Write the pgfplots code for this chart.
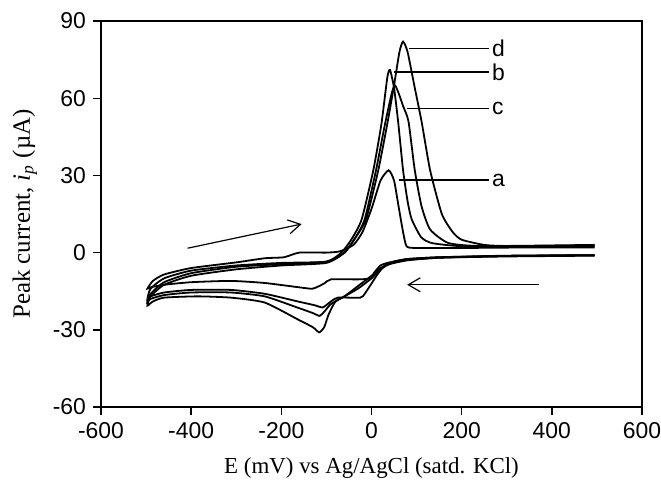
\documentclass[border=0pt]{standalone}
\usepackage{fontspec}
\setmainfont{Liberation Serif}
\setsansfont{Liberation Sans}
\usepackage{pgfplots}
\pgfplotsset{compat=1.18}
\usetikzlibrary{arrows.meta}

\begin{document}
\begin{tikzpicture}
\begin{axis}[
    scale only axis,
    width=270.5bp, height=193bp,
    xmin=-600, xmax=600, ymin=-60, ymax=90,
    xtick={-600,-400,...,600},
    ytick={-60,-30,...,90},
    xtick pos=bottom, ytick pos=left,
    tick align=outside,
    major tick length=4bp,
    axis line style={line width=0.8pt},
    tick style={line width=0.7pt, black},
    tick label style={font=\sffamily\fontsize{11.5}{13}\selectfont},
    /pgf/number format/assume math mode=true,
    xlabel={E (mV) vs Ag/AgCl (satd. KCl)},
    ylabel={Peak current, \textit{i}\textsubscript{\textit{p}} (µA)},
    xlabel style={font=\fontsize{11.5}{13}\selectfont, yshift=-3bp},
    ylabel style={font=\fontsize{12.5}{14}\selectfont, yshift=1bp},
    cycle list={{black, solid, mark=none}},
    cv/.style={black, mark=none, line width=0.9pt, smooth, tension=0.35},
    clip=false,
]
% curve a (return sweep, then forward sweep)
\addplot[cv] coordinates {
(495,-1) (300,-1.3) (150,-2) (80,-2.8) (40,-3.8) (20,-5) (5,-8) (0,-10) (-30,-10.4) (-90,-10.4) (-105,-12) (-130,-14) (-160,-13.5) (-237,-11.8) (-312,-11) (-400,-11.5) (-460,-12.5) (-490,-13.5) (-497,-14)
(-485,-11) (-460,-8.5) (-400,-6) (-300,-3.8) (-237,-2.2) (-194,-1.8) (-160,0) (-100,0) (-70,0.5) (-40,3) (-20,8) (0,17) (20,28) (38,32) (50,28) (60,18) (70,8) (78,2.4) (100,1.8) (200,1.8) (350,2) (495,2)
};
% curve b
\addplot[cv] coordinates {
(495,-1.2) (300,-1.5) (150,-2) (80,-3) (40,-4.5) (20,-6.5) (0,-10) (-30,-14) (-60,-17) (-90,-20) (-105,-23) (-115,-24.6) (-130,-23.5) (-170,-21) (-237,-17) (-312,-15.5) (-400,-15.5) (-460,-16.5) (-490,-18) (-497,-19)
(-490,-16) (-460,-11.5) (-400,-8) (-300,-5.5) (-200,-4.5) (-100,-3.5) (-67,0) (-45,5) (-22,12.8) (4,32) (22,50) (35,68) (41,71) (50,64) (59,51) (70,32) (80,20) (89,13) (110,6) (134,3.7) (200,2.5) (350,2.5) (495,2.5)
};
% curve c
\addplot[cv] coordinates {
(495,-1) (300,-1.3) (150,-1.8) (80,-2.5) (50,-3.5) (30,-5) (15,-8) (0,-12) (-15,-16) (-25,-17.5) (-75,-17.5) (-90,-19) (-108,-21.3) (-125,-20.5) (-163,-19) (-237,-16) (-312,-14.5) (-400,-14.5) (-460,-15.5) (-490,-17) (-497,-18)
(-490,-14) (-460,-10) (-400,-7) (-300,-5) (-200,-4) (-100,-3.5) (-60,0) (-35,6) (-15,13) (10,32) (30,50) (45,62) (52,65) (60,62) (70,57) (82,51) (96,32) (111,18) (130,9) (171,3.7) (250,2.5) (495,2.8)
};
% curve d
\addplot[cv] coordinates {
(495,-1) (300,-1.2) (150,-1.8) (80,-2.5) (50,-3.5) (20,-6) (0,-9) (-30,-13) (-60,-17) (-80,-19) (-95,-24) (-105,-29) (-116,-31) (-130,-29) (-163,-26) (-237,-19.4) (-312,-17.5) (-386,-17) (-460,-17.5) (-485,-19) (-497,-20.6)
(-490,-17) (-460,-12.5) (-400,-9) (-300,-6.5) (-200,-5) (-100,-4) (-60,0) (-35,6) (-12,13) (15,32) (35,50) (50,65) (62,78) (70,82) (80,78) (96,64) (111,51) (130,32) (156,15) (180,8) (200,5) (250,3) (300,2.6) (495,3)
};
% label leader lines
\addplot[black, mark=none, line width=0.6pt] coordinates {(83,79.3) (260,79.3)};
\addplot[black, mark=none, line width=0.6pt] coordinates {(50,70.2) (260,70.2)};
\addplot[black, mark=none, line width=0.6pt] coordinates {(79,56) (260,56)};
\addplot[black, mark=none, line width=0.6pt] coordinates {(60,28.2) (260,28.2)};
\node[anchor=west, font=\sffamily\fontsize{11.5}{12}\selectfont, inner sep=1bp] at (axis cs:262,79.3) {d};
\node[anchor=west, font=\sffamily\fontsize{11.5}{12}\selectfont, inner sep=1bp] at (axis cs:262,70.2) {b};
\node[anchor=west, font=\sffamily\fontsize{11.5}{12}\selectfont, inner sep=1bp] at (axis cs:262,56) {c};
\node[anchor=west, font=\sffamily\fontsize{11.5}{12}\selectfont, inner sep=1bp] at (axis cs:262,28.2) {a};
% sweep arrows
\draw[line width=0.6pt, -{Straight Barb[length=6bp, width=7bp]}] (axis cs:-408,1.7) -- (axis cs:-155,11.1);
\draw[line width=0.6pt, -{Straight Barb[length=6bp, width=7bp]}] (axis cs:372,-12.5) -- (axis cs:79,-12.5);
\coordinate (sw) at (rel axis cs:0,0);
\coordinate (ne) at (rel axis cs:1,1);
\end{axis}
\pgfresetboundingbox
\useasboundingbox ([xshift=-50.5bp,yshift=-41bp]sw) rectangle ([xshift=9.5bp,yshift=10.5bp]ne);
\end{tikzpicture}
\end{document}
